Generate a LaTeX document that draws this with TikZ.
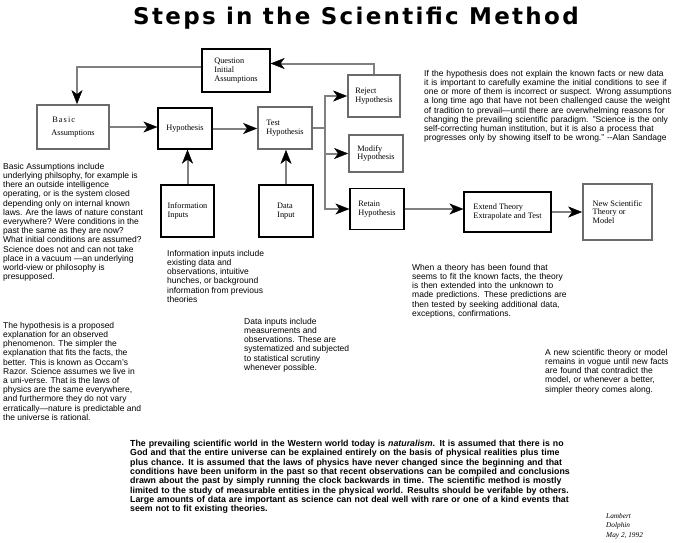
\documentclass[tikz,border=0pt]{standalone}
\usepackage{fontspec}
\setmainfont{Liberation Serif}
\setsansfont{Liberation Sans}
\newfontfamily\titlefam[LetterSpace=10]{DejaVu Sans}
\usetikzlibrary{arrows.meta}
\definecolor{linkgrey}{gray}{0.5}
\definecolor{boxgrey}{gray}{0.42}
\newcommand{\boxfont}{\rmfamily\fontsize{8.3}{8.8}\selectfont}
\newcommand{\notefont}{\sffamily\fontsize{8.5}{9.2}\selectfont}
\newcommand{\jrow}[1]{\leavevmode\hbox to\hsize{#1}\par}

\begin{document}
\begin{tikzpicture}[x=1pt,y=-1pt]
  \tikzset{box/.style={draw=black,line width=1.2pt,font=\boxfont,align=left,inner sep=2pt},
           greybox/.style={box,draw=boxgrey,line width=1.8pt},
           wire/.style={draw=linkgrey,line width=2pt},
           link/.style={wire,-{Stealth[length=14pt,width=11pt,inset=4pt,color=black,line width=0.4pt]}},
           note/.style={font=\notefont,align=left,inner sep=0pt,anchor=north west}}
  \useasboundingbox (0,0) rectangle (683,542);
  \node(title) at (356,18) {\titlefam\bfseries\fontsize{23}{23}\selectfont Steps in the Scientific Method};

  \node[box,minimum width=68pt,minimum height=43pt](quest) at (236,70.5) {Question\\Initial\\Assumptions};
  \node[greybox,minimum width=72pt,minimum height=44pt](basic) at (73,127) {\addfontfeature{LetterSpace=13}\hspace{1pt}Basic\\[4pt]Assumptions};
  \node[box,minimum width=54pt,minimum height=41pt](hyp) at (185,128.5) {Hypothesis};
  \node[greybox,minimum width=54pt,minimum height=42pt](test) at (285,128) {Test\\Hypothesis};
  \node[greybox,minimum width=52pt,minimum height=42pt](reject) at (374,96) {Reject\\Hypothesis};
  \node[greybox,minimum width=54pt,minimum height=37pt](modify) at (376,153.5) {Modify\\Hypothesis};
  \node[box,minimum width=54pt,minimum height=41pt](retain) at (377,209) {Retain\\Hypothesis};
  \node[box,minimum width=87pt,minimum height=40pt](extend) at (507.5,212) {Extend Theory\\Extrapolate and Test};
  \node[greybox,minimum width=69pt,minimum height=56pt](newth) at (617.5,212) {New Scientific\\Theory or\\Model};
  \node[box,minimum width=53pt,minimum height=52pt](info) at (187.5,211) {Information\\Inputs};
  \node[box,minimum width=54pt,minimum height=52pt](data) at (286,211) {Data\\Input};
  \coordinate (split) at (325,128);

  \draw[link] (reject.north) |- ([yshift=7pt]quest.east);
  \draw[link] ([yshift=4pt]quest.west) -| ([xshift=4pt]basic.north);
  \draw[link] (basic.east) -- (basic.east -| hyp.west);
  \draw[link] (hyp.east) -- (hyp.east -| test.west);
  \draw[wire] (test.east) -- (split);
  \draw[link] (split) |- (reject.west);
  \draw[link] (split) |- (modify.west);
  \draw[link] (split) |- (retain.west);
  \draw[link] (info.north) -- (info.north |- hyp.south);
  \draw[link] (data.north) -- (data.north |- test.south);
  \draw[link] (retain.east) -- (retain.east -| extend.west);
  \draw[link] (extend.east) -- (extend.east -| newth.west);

  \node[note](basicnote) at (3,163) {Basic Assumptions include\\underlying philsophy, for example is\\there an outside intelligence\\operating, or is the system closed\\depending only on internal known\\laws. Are the laws of nature constant\\everywhere? Were conditions in the\\past the same as they are now?\\What initial conditions are assumed?\\Science does not and can not take\\place in a vacuum ---an underlying\\world-view or philosophy is\\presupposed.};
  \node[note](infonote) at (167,250) {Information inputs include\\existing data and\\observations, intuitive\\hunches, or background\\information from previous\\theories};
  \node[note](datanote) at (244,318) {Data inputs include\\measurements and\\observations. These are\\systematized and subjected\\to statistical scrutiny\\whenever possible.};
  \node[note](hypnote) at (3,322) {The hypothesis is a proposed\\explanation for an observed\\phenomenon. The simpler the\\explanation that fits the facts, the\\better. This is known as Occam's\\Razor. Science assumes we live in\\a uni-verse. That is the laws of\\physics are the same everywhere,\\and furthermore they do not vary\\erratically---nature is predictable and\\the universe is rational.};
  \node[note,text width=253pt](rejectnote) at (424,70) {\jrow{If the hypothesis does not explain the known facts or new data}\jrow{it is important to carefully examine the initial conditions to see if}\jrow{one or more of them is incorrect or suspect. Wrong assumptions}\jrow{a long time ago that have not been challenged cause the weight}\jrow{of tradition to prevail---until there are overwhelming reasons for}\jrow{changing the prevailing scientific paradigm. "Science is the only}\jrow{self-correcting human institution, but it is also a process that}\jrow{progresses only by showing itself to be wrong." -{}-Alan Sandage}};
  \node[note,text width=157pt](extendnote) at (412,264) {\jrow{When a theory has been found that}\jrow{seems to fit the known facts, the theory}\jrow{is then extended into the unknown to}\jrow{made predictions. These predictions are}\jrow{then tested by seeking additional data,}exceptions, confirmations.};
  \node[note,text width=135pt](newnote) at (545,349) {\jrow{A new scientific theory or model}\jrow{remains in vogue until new facts}\jrow{are found that contradict the}\jrow{model, or whenever a better,}\jrow{simpler theory comes along.}};
  \node[note,text width=445pt,font=\sffamily\bfseries\fontsize{8.8}{9.3}\selectfont](worldnote) at (130,440) {\jrow{The prevailing scientific world in the Western world today is \textit{naturalism}. It is assumed that there is no}\jrow{God and that the entire universe can be explained entirely on the basis of physical realities plus time}\jrow{plus chance. It is assumed that the laws of physics have never changed since the beginning and that}\jrow{conditions have been uniform in the past so that recent observations can be compiled and conclusions}\jrow{drawn about the past by simply running the clock backwards in time. The scientific method is mostly}\jrow{limited to the study of measurable entities in the physical world. Results should be verifable by others.}\jrow{Large amounts of data are important as science can not deal well with rare or one of a kind events that}seem not to fit existing theories.};
  \node[note,font=\rmfamily\itshape\fontsize{7.3}{9.5}\selectfont](sign) at (606,513) {Lambert\\Dolphin\\May 2, 1992};
\end{tikzpicture}
\end{document}
